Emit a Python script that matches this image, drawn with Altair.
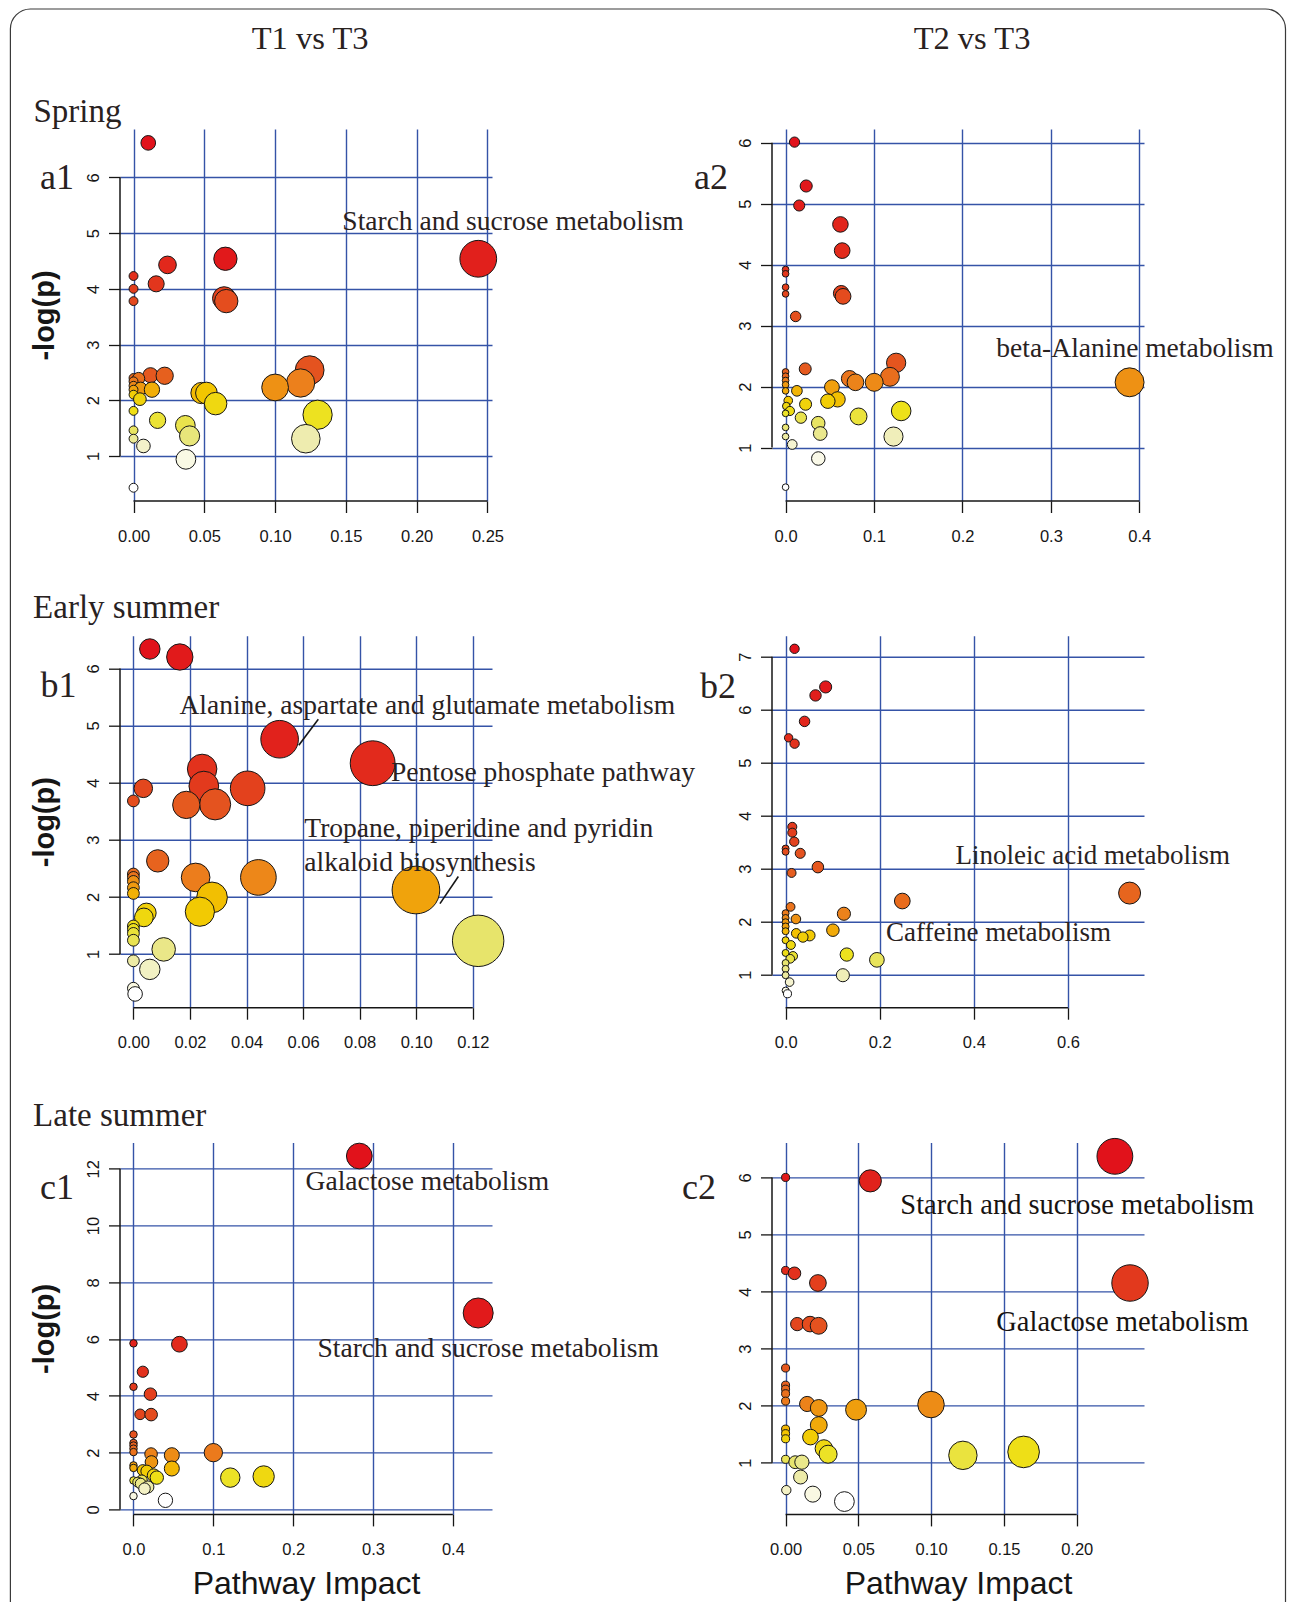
import math
import altair as alt
import pandas as pd

# ------------------------------------------------------------------ text
COL_TITLES = ["T1 vs T3", "T2 vs T3"]
ROW_TITLES = ["Spring", "Early summer", "Late summer"]
PANEL_TAGS = ["a1", "a2", "b1", "b2", "c1", "c2"]
X_TITLE = "Pathway Impact"
Y_TITLE = "-log(p)"

# ------------------------------------------------------------------ data
# a1  Spring, T1 vs T3
a1_impact = [0.0104, 0.0, 0.0, 0.0, 0.016, 0.024, 0.0649, 0.064, 0.0655, 0.2435,
             0.0, 0.0, 0.0, 0.0036, 0.0, 0.005, 0.012, 0.022, 0.013, 0.0,
             0.0045, 0.0, 0.0, 0.0, 0.007, 0.017, 0.0366, 0.0396, 0.037, 0.0,
             0.048, 0.0515, 0.058, 0.100, 0.1244, 0.118, 0.130, 0.1217]
a1_logp = [6.62, 4.23, 4.00, 3.78, 4.09, 4.43, 4.54, 3.83, 3.78, 4.54,
           2.40, 2.34, 2.26, 2.39, 2.19, 2.21, 2.45, 2.44, 2.19, 2.10,
           2.02, 1.81, 1.46, 1.31, 1.18, 1.64, 1.55, 1.36, 0.94, 0.43,
           2.13, 2.13, 1.94, 2.23, 2.54, 2.31, 1.74, 1.31]
a1_notes = ["Starch and sucrose metabolism"]

# a2  Spring, T2 vs T3
a2_impact = [0.0101, 0.0233, 0.0154, 0.062, 0.064, 0.0629, 0.065, 0.0, 0.0, 0.0,
             0.0, 0.0114, 0.0222, 0.0, 0.0, 0.0, 0.0, 0.0, 0.0128, 0.003,
             0.0008, 0.0049, 0.0, 0.0226, 0.0173, 0.0, 0.0, 0.0075, 0.0369, 0.0392,
             0.037, 0.0, 0.0524, 0.0478, 0.0588, 0.0723, 0.079, 0.1002, 0.118, 0.125,
             0.0825, 0.1307, 0.122, 0.389]
a2_logp = [6.01, 5.29, 4.97, 4.66, 4.23, 3.53, 3.48, 3.92, 3.85, 3.63,
           3.52, 3.15, 2.29, 2.24, 2.17, 2.10, 2.03, 1.93, 1.93, 1.77,
           1.68, 1.60, 1.56, 1.71, 1.49, 1.33, 1.18, 1.05, 1.40, 1.23,
           0.82, 0.35, 1.99, 1.76, 1.79, 2.13, 2.07, 2.07, 2.16, 2.39,
           1.51, 1.60, 1.18, 2.07]
a2_notes = ["beta-Alanine metabolism"]

# b1  Early summer, T1 vs T3
b1_impact = [0.0058, 0.0164, 0.0517, 0.0846, 0.0243, 0.0249, 0.0404, 0.0035, 0.0, 0.0187,
             0.0289, 0.0086, 0.0, 0.0, 0.0, 0.0, 0.0, 0.022, 0.0442, 0.0278,
             0.0235, 0.0046, 0.0037, 0.0999, 0.1219, 0.0, 0.0, 0.0, 0.0, 0.0,
             0.0107, 0.0058, 0.0, 0.0006]
b1_logp = [6.34, 6.20, 4.76, 4.34, 4.24, 3.94, 3.90, 3.90, 3.68, 3.61,
           3.62, 2.63, 2.40, 2.34, 2.27, 2.16, 2.06, 2.34, 2.34, 1.99,
           1.74, 1.72, 1.64, 2.12, 1.23, 1.49, 1.43, 1.36, 1.24, 0.88,
           1.08, 0.73, 0.40, 0.30]
b1_notes = ["Alanine, aspartate and glutamate metabolism", "Pentose phosphate pathway",
            "Tropane, piperidine and pyridin", "alkaloid biosynthesis"]

# b2  Early summer, T2 vs T3
b2_impact = [0.019, 0.0851, 0.0636, 0.0403, 0.0064, 0.0191, 0.0142, 0.0142, 0.0184, 0.0,
             0.0, 0.0311, 0.0686, 0.0127, 0.0106, 0.0, 0.0, 0.0, 0.0, 0.0,
             0.0219, 0.0226, 0.0368, 0.051, 0.0, 0.0113, 0.0, 0.0156, 0.0099, 0.0,
             0.0, 0.0, 0.0085, 0.1239, 0.1005, 0.130, 0.194, 0.1217, 0.248, 0.731,
             0.0, 0.004]
b2_logp = [7.15, 6.43, 6.27, 5.78, 5.47, 5.36, 3.79, 3.68, 3.51, 3.38,
           3.32, 3.29, 3.03, 2.92, 2.28, 2.16, 2.07, 1.99, 1.91, 1.82,
           2.05, 1.78, 1.71, 1.74, 1.65, 1.56, 1.41, 1.35, 1.30, 1.22,
           1.11, 0.99, 0.86, 2.15, 1.84, 1.38, 1.28, 0.99, 2.39, 2.54,
           0.70, 0.64]
b2_notes = ["Linoleic acid metabolism", "Caffeine metabolism"]

# c1  Late summer, T1 vs T3
c1_impact = [0.2828, 0.4317, 0.0575, 0.0, 0.0117, 0.0, 0.0212, 0.0083, 0.0221, 0.0,
             0.0, 0.0, 0.0, 0.0, 0.022, 0.048, 0.0225, 0.048, 0.0, 0.0,
             0.0117, 0.0167, 0.0254, 0.0292, 0.0, 0.0054, 0.0104, 0.0138, 0.018, 0.009,
             0.0, 0.04, 0.1, 0.1212, 0.163]
c1_logp = [12.45, 6.92, 5.82, 5.85, 4.85, 4.32, 4.06, 3.35, 3.34, 2.64,
           2.34, 2.25, 2.14, 2.02, 1.95, 1.91, 1.67, 1.44, 1.55, 1.46,
           1.38, 1.35, 1.20, 1.12, 1.02, 0.96, 1.02, 0.73, 0.79, 0.91,
           0.47, 0.32, 2.0, 1.12, 1.16]
c1_notes = ["Galactose metabolism", "Starch and sucrose metabolism"]

# c2  Late summer, T2 vs T3
c2_impact = [0.2262, 0.0582, 0.0, 0.2366, 0.0, 0.0061, 0.0222, 0.008, 0.0168, 0.0227,
             0.0, 0.0, 0.0, 0.0, 0.0, 0.0148, 0.0228, 0.0484, 0.0228, 0.0,
             0.0, 0.0, 0.0171, 0.0263, 0.0292, 0.0, 0.0066, 0.0112, 0.0103, 0.0005,
             0.0187, 0.0404, 0.0999, 0.1218, 0.1635]
c2_logp = [6.37, 5.94, 6.00, 4.15, 4.37, 4.32, 4.15, 3.43, 3.43, 3.40,
           2.66, 2.36, 2.29, 2.21, 2.08, 2.03, 1.96, 1.93, 1.66, 1.59,
           1.51, 1.42, 1.45, 1.25, 1.15, 1.06, 1.01, 1.01, 0.75, 0.52,
           0.45, 0.32, 2.02, 1.13, 1.19]
c2_notes = ["Starch and sucrose metabolism", "Galactose metabolism"]

# ------------------------------------------------------------------ style
BLUE = "#3553a7"
AX = "#161616"
INK = "#29221f"
SERIF = "Liberation Serif"
SANS = "Liberation Sans"
W = 372
H = 372
SIZE_K = 1.5   # calibration of symbol size against the picture

RAMP_STOPS = [0, 0.15, 0.3, 0.43, 0.545, 0.62, 0.75, 0.85, 0.92, 1.0]
RAMP_COLORS = ["#e1121b", "#e23a1d", "#e5591f", "#ec7f1c", "#f0a30c",
               "#f3c600", "#ede21a", "#e7e46c", "#eeecb0", "#ffffff"]


def one(t):
    return pd.DataFrame({"t": [t]})


def deco(text, px, py, size, align="left", color=INK, font=SERIF):
    return alt.Chart(one(text)).mark_text(
        font=font, fontSize=size, color=color, align=align, baseline="alphabetic"
    ).encode(text="t:N", x=alt.value(px), y=alt.value(py))


def panel(impact, logp, xdom, ydom, xticks, yticks, xfmt, dmin, dmax,
          notes, note_pos, note_size=27.5, note_color=INK, leaders=(),
          decos=(), ytitle=False, xtitle=False, frame=False):
    n = len(impact)
    imax = max(impact)
    df = pd.DataFrame({"impact": impact, "logp": logp})
    df["rank"] = (df["logp"].rank(ascending=False, method="first") - 1) / (n - 1)
    df["diam"] = [dmin + (dmax - dmin) * math.sqrt(v / imax) for v in impact]

    xsc = alt.Scale(domain=xdom, nice=False, zero=False)
    ysc = alt.Scale(domain=ydom, nice=False, zero=False)
    xax = alt.Axis(values=xticks, format=xfmt, domain=False, grid=True,
                   gridColor=BLUE, gridWidth=1.4, gridOpacity=1,
                   tickSize=11.5, tickColor=AX, tickWidth=1.3,
                   labelFont=SANS, labelFontSize=16.5, labelColor=AX,
                   labelPadding=15.5, labelFlush=False, labelOverlap=False,
                   labelAlign="center", labelBaseline="top",
                   title=X_TITLE if xtitle else "", titleFont=SANS,
                   titleFontSize=32, titleFontWeight="normal", titleColor=AX,
                   titleX=W / 2, titleY=79, titleAlign="center",
                   titleBaseline="alphabetic")
    yax = alt.Axis(values=yticks, format="d", domain=False, grid=True,
                   gridColor=BLUE, gridWidth=1.4, gridOpacity=1,
                   tickSize=11.5, tickColor=AX, tickWidth=1.3,
                   labelFont=SANS, labelFontSize=16.5, labelColor=AX,
                   labelAngle=270, labelAlign="center", labelBaseline="bottom",
                   labelPadding=7, labelFlush=False, labelOverlap=False,
                   title=Y_TITLE if ytitle else "", titleFont=SANS,
                   titleFontSize=29, titleFontWeight="bold", titleColor=AX,
                   titleAngle=270, titleX=-75.5, titleY=H / 2,
                   titleAlign="center", titleBaseline="middle")

    def X(f="impact"):
        return alt.X(f + ":Q", scale=xsc, axis=xax)

    def Y(f="logp"):
        return alt.Y(f + ":Q", scale=ysc, axis=yax)

    layers = []
    if frame:
        layers.append(
            alt.Chart(one("")).mark_rect(
                fillOpacity=0, stroke="#3a3a3a", strokeWidth=1.2, cornerRadius=20
            ).encode(x=alt.value(-109.6), x2=alt.value(1165.5),
                     y=alt.value(-120), y2=alt.value(1505))
        )
    xline = pd.DataFrame({"impact": [xticks[0]], "impact2": [xticks[-1]]})
    yline = pd.DataFrame({"logp": [yticks[0]], "logp2": [yticks[-1]]})
    layers.append(alt.Chart(xline).mark_rule(color=AX, strokeWidth=1.5).encode(
        x=X(), x2="impact2", y=alt.value(H)))
    layers.append(alt.Chart(yline).mark_rule(color=AX, strokeWidth=1.5).encode(
        y=Y(), y2="logp2", x=alt.value(0)))

    smax = (SIZE_K * dmax) ** 2
    layers.append(alt.Chart(df).mark_circle(opacity=1, stroke=AX, strokeWidth=1).encode(
        x=X(), y=Y(),
        color=alt.Color("rank:Q", legend=None,
                        scale=alt.Scale(domain=RAMP_STOPS, range=RAMP_COLORS,
                                        interpolate="rgb")),
        size=alt.Size("diam:Q", legend=None,
                      scale=alt.Scale(type="pow", exponent=2, domain=[0, dmax],
                                      range=[0, smax], nice=False)),
        order=alt.Order("rank:Q", sort="ascending"),
    ))

    if leaders:
        ld = pd.DataFrame(leaders, columns=["impact", "logp", "impact2", "logp2"])
        layers.append(alt.Chart(ld).mark_rule(color=AX, strokeWidth=1.6).encode(
            x=X(), y=Y(), x2="impact2", y2="logp2"))

    nd = pd.DataFrame({"label": notes,
                       "impact": [p[0] for p in note_pos],
                       "logp": [p[1] for p in note_pos]})
    layers.append(alt.Chart(nd).mark_text(
        font=SERIF, fontSize=note_size, color=note_color, align="left",
        baseline="alphabetic").encode(x=X(), y=Y(), text="label:N"))

    layers.extend(decos)
    return alt.layer(*layers).properties(width=W, height=H)


a1 = panel(a1_impact, a1_logp, [-0.00955, 0.2532], [0.192, 6.869],
           [0, 0.05, 0.10, 0.15, 0.20, 0.25], [1, 2, 3, 4, 5, 6], ".2f", 8.3, 34.3,
           a1_notes, [(0.1475, 5.05)],
           decos=[deco(COL_TITLES[0], 190.1, -80, 32.5, "center"),
                  deco(ROW_TITLES[0], -86.6, -6.6, 33),
                  deco(PANEL_TAGS[0], -79.9, 60, 36)],
           ytitle=True, frame=True)

a2 = panel(a2_impact, a2_logp, [-0.01537, 0.4053], [0.123, 6.225],
           [0, 0.1, 0.2, 0.3, 0.4], [1, 2, 3, 4, 5, 6], ".1f", 6.2, 27,
           a2_notes, [(0.2383, 2.48)],
           decos=[deco(COL_TITLES[1], 200, -80, 32.5, "center"),
                  deco(PANEL_TAGS[1], -77.9, 60, 36)])

b1 = panel(b1_impact, b1_logp, [-0.00474, 0.1268], [0.059, 6.573],
           [0, 0.02, 0.04, 0.06, 0.08, 0.10, 0.12], [1, 2, 3, 4, 5, 6], ".2f", 11, 48,
           b1_notes, [(0.0163, 5.199), (0.0911, 4.032), (0.06045, 3.05), (0.06045, 2.455)],
           leaders=[(0.05848, 4.656, 0.06538, 5.111), (0.1084, 1.882, 0.1149, 2.356)],
           decos=[deco(ROW_TITLES[1], -86.9, -17.7, 33),
                  deco(PANEL_TAGS[2], -79.4, 61.7, 36)],
           ytitle=True)

b2 = panel(b2_impact, b2_logp, [-0.0289, 0.7616], [0.377, 7.397],
           [0, 0.2, 0.4, 0.6], [1, 2, 3, 4, 5, 6, 7], ".1f", 6.5, 20.5,
           b2_notes, [(0.361, 3.083), (0.2132, 1.636)], note_size=27,
           decos=[deco(PANEL_TAGS[3], -71.9, 62, 36)])

c1 = panel(c1_impact, c1_logp, [-0.0169, 0.449], [-0.176, 12.93],
           [0, 0.1, 0.2, 0.3, 0.4], [0, 2, 4, 6, 8, 10, 12], ".1f", 7, 28,
           c1_notes, [(0.2155, 11.257), (0.2305, 5.387)],
           decos=[deco(ROW_TITLES[2], -86.9, -16.7, 33),
                  deco(PANEL_TAGS[4], -79.9, 56.3, 36)],
           ytitle=True, xtitle=True)

c2 = panel(c2_impact, c2_logp, [-0.00933, 0.2462], [0.095, 6.614],
           [0, 0.05, 0.10, 0.15, 0.20], [1, 2, 3, 4, 5, 6], ".2f", 7.5, 34,
           c2_notes, [(0.0788, 5.358), (0.1447, 3.311)], note_size=28.5,
           note_color="#171311",
           decos=[deco(PANEL_TAGS[5], -89.9, 56.3, 36)],
           xtitle=True)

chart = alt.concat(
    a1, a2, b1, b2, c1, c2, columns=2, bounds="flush",
    spacing={"row": 134.7, "column": 280},
).properties(
    padding={"left": 1, "top": 0, "right": 0, "bottom": 0}
).configure_view(strokeWidth=0)

chart.save("out.html", embed_options={"renderer": "svg", "actions": False})
